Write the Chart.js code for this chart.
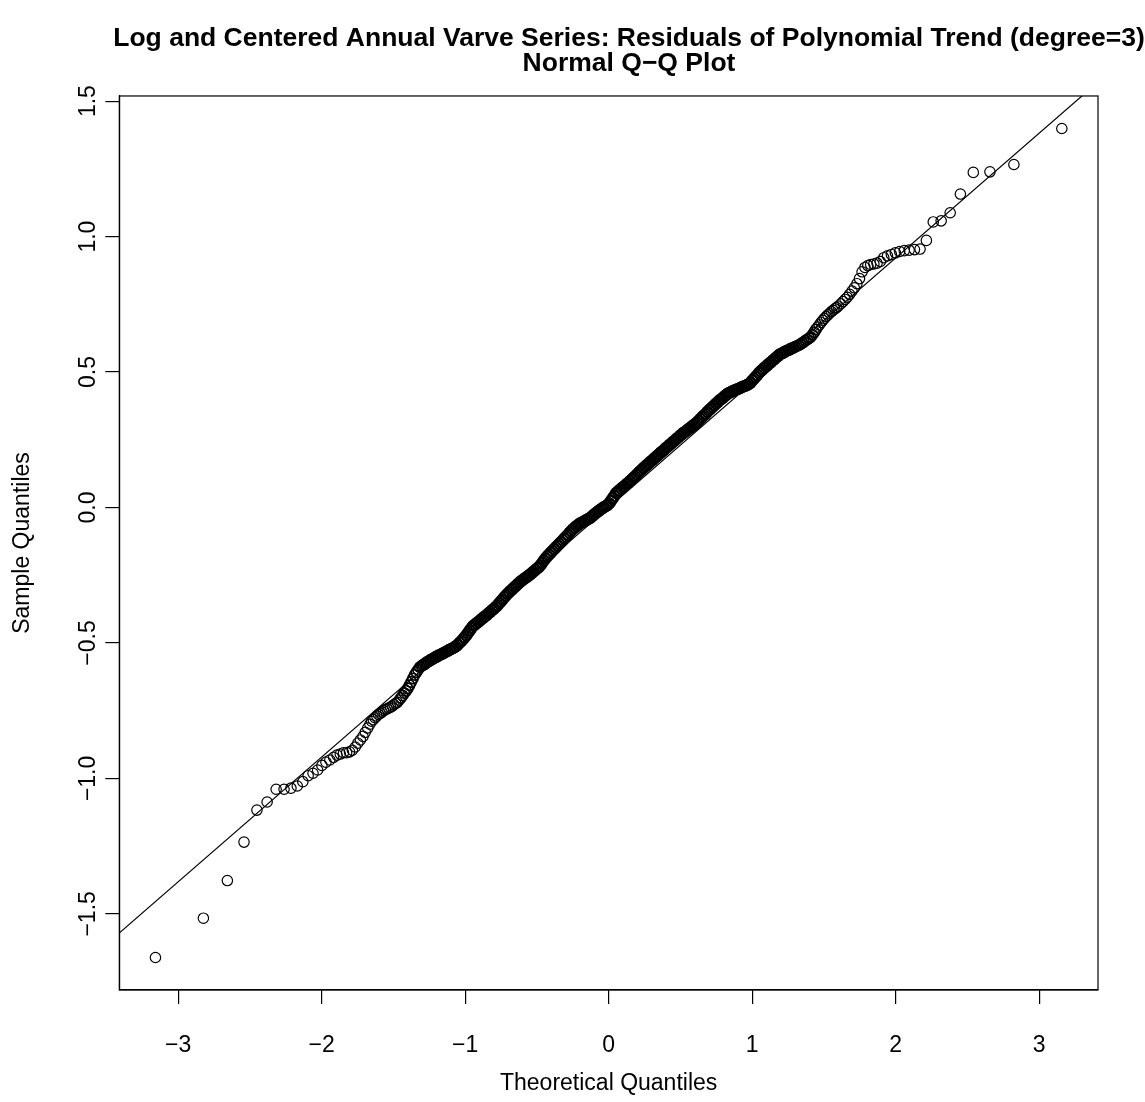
<!DOCTYPE html>
<html><head><meta charset="utf-8">
<script src="https://cdn.jsdelivr.net/npm/chart.js@4.4.1/dist/chart.umd.min.js"></script>
<style>html,body{margin:0;padding:0;background:#fff}canvas{display:block}</style>
</head><body>
<canvas id="c" width="1145" height="1102"></canvas>
<script>
const titleLines = ['Log and Centered Annual Varve Series: Residuals of Polynomial Trend (degree=3)', 'Normal Q\u2212Q Plot'];
const xAxisTitle = 'Theoretical Quantiles';
const yAxisTitle = 'Sample Quantiles';
const xTicks = [-3, -2, -1, 0, 1, 2, 3];
const yTicks = [-1.5, -1.0, -0.5, 0.0, 0.5, 1.0, 1.5];
const xRange = [-3.41, 3.41];
const yRange = [-1.781, 1.519];

// lower tail (individually visible points)
const lowerTailX = [-3.158,-2.824,-2.657,-2.541,-2.451,-2.380,-2.317,-2.262,-2.214,-2.170,-2.131,-2.094,-2.060,-2.028,-1.998,-1.970,-1.943,-1.917,-1.893,-1.870,-1.848,-1.826,-1.806,-1.786,-1.766,-1.748,-1.730,-1.712,-1.696,-1.679];
const lowerTailY = [-1.661,-1.516,-1.377,-1.235,-1.117,-1.087,-1.040,-1.040,-1.036,-1.028,-1.012,-0.990,-0.981,-0.969,-0.952,-0.940,-0.932,-0.922,-0.914,-0.910,-0.905,-0.905,-0.902,-0.896,-0.884,-0.870,-0.858,-0.845,-0.830,-0.814];

// dense central band
const bandX = [
-1.664,-1.652,-1.640,-1.628,-1.616,-1.604,-1.592,-1.580,-1.568,-1.556,
-1.544,-1.532,-1.520,-1.508,-1.496,-1.484,-1.472,-1.460,-1.448,-1.436,
-1.424,-1.412,-1.400,-1.388,-1.376,-1.364,-1.352,-1.340,-1.328,-1.316,
-1.304,-1.292,-1.280,-1.268,-1.256,-1.244,-1.232,-1.220,-1.208,-1.196,
-1.184,-1.172,-1.160,-1.148,-1.136,-1.124,-1.112,-1.100,-1.088,-1.076,
-1.064,-1.052,-1.040,-1.028,-1.016,-1.004,-0.992,-0.980,-0.968,-0.956,
-0.944,-0.932,-0.920,-0.908,-0.896,-0.884,-0.872,-0.860,-0.848,-0.836,
-0.824,-0.812,-0.800,-0.788,-0.776,-0.764,-0.752,-0.740,-0.728,-0.716,
-0.704,-0.692,-0.680,-0.668,-0.656,-0.644,-0.632,-0.620,-0.608,-0.596,
-0.584,-0.572,-0.560,-0.548,-0.536,-0.524,-0.512,-0.500,-0.488,-0.476,
-0.464,-0.452,-0.440,-0.428,-0.416,-0.404,-0.392,-0.380,-0.368,-0.356,
-0.344,-0.332,-0.320,-0.308,-0.296,-0.284,-0.272,-0.260,-0.248,-0.236,
-0.224,-0.212,-0.200,-0.188,-0.176,-0.164,-0.152,-0.140,-0.128,-0.116,
-0.104,-0.092,-0.080,-0.068,-0.056,-0.044,-0.032,-0.020,-0.008,0.004,
0.016,0.028,0.040,0.052,0.064,0.076,0.088,0.100,0.112,0.124,
0.136,0.148,0.160,0.172,0.184,0.196,0.208,0.220,0.232,0.244,
0.256,0.268,0.280,0.292,0.304,0.316,0.328,0.340,0.352,0.364,
0.376,0.388,0.400,0.412,0.424,0.436,0.448,0.460,0.472,0.484,
0.496,0.508,0.520,0.532,0.544,0.556,0.568,0.580,0.592,0.604,
0.616,0.628,0.640,0.652,0.664,0.676,0.688,0.700,0.712,0.724,
0.736,0.748,0.760,0.772,0.784,0.796,0.808,0.820,0.832,0.844,
0.856,0.868,0.880,0.892,0.904,0.916,0.928,0.940,0.952,0.964,
0.976,0.988,1.000,1.012,1.024,1.036,1.048,1.060,1.072,1.084,
1.096,1.108,1.120,1.132,1.144,1.156,1.168,1.180,1.192,1.204,
1.216,1.228,1.240,1.252,1.264,1.276,1.288,1.300,1.312,1.324,
1.336,1.348,1.360,1.372,1.384,1.396,1.408,1.420,1.432,1.444,
1.456,1.468,1.480,1.492,1.504,1.516,1.528,1.540,1.552,1.564,
1.576,1.588,1.600];
const bandY = [
-0.800,-0.789,-0.783,-0.776,-0.770,-0.764,-0.760,-0.755,-0.750,-0.746,
-0.743,-0.740,-0.737,-0.733,-0.728,-0.723,-0.719,-0.711,-0.703,-0.694,
-0.685,-0.677,-0.668,-0.656,-0.644,-0.631,-0.618,-0.608,-0.599,-0.590,
-0.585,-0.581,-0.577,-0.572,-0.568,-0.564,-0.561,-0.557,-0.553,-0.550,
-0.546,-0.543,-0.540,-0.537,-0.533,-0.530,-0.526,-0.523,-0.520,-0.516,
-0.513,-0.507,-0.500,-0.494,-0.487,-0.479,-0.472,-0.463,-0.454,-0.445,
-0.437,-0.432,-0.427,-0.422,-0.417,-0.411,-0.406,-0.401,-0.396,-0.390,
-0.385,-0.379,-0.374,-0.368,-0.362,-0.354,-0.347,-0.340,-0.332,-0.325,
-0.318,-0.312,-0.306,-0.300,-0.294,-0.288,-0.282,-0.276,-0.271,-0.266,
-0.262,-0.257,-0.252,-0.248,-0.242,-0.237,-0.231,-0.226,-0.221,-0.214,
-0.205,-0.196,-0.188,-0.180,-0.174,-0.167,-0.160,-0.154,-0.147,-0.141,
-0.134,-0.128,-0.121,-0.114,-0.108,-0.101,-0.093,-0.086,-0.080,-0.074,
-0.069,-0.064,-0.059,-0.056,-0.052,-0.049,-0.045,-0.042,-0.038,-0.033,
-0.027,-0.022,-0.017,-0.012,-0.007,-0.003,0.001,0.005,0.009,0.015,
0.024,0.034,0.043,0.053,0.059,0.064,0.070,0.075,0.080,0.086,
0.091,0.097,0.103,0.109,0.115,0.121,0.128,0.134,0.140,0.146,
0.152,0.157,0.163,0.169,0.174,0.180,0.186,0.191,0.197,0.203,
0.208,0.214,0.220,0.225,0.231,0.236,0.242,0.247,0.253,0.258,
0.264,0.269,0.275,0.279,0.284,0.289,0.294,0.299,0.304,0.309,
0.314,0.321,0.327,0.334,0.340,0.346,0.353,0.359,0.365,0.371,
0.377,0.383,0.389,0.395,0.400,0.405,0.411,0.416,0.421,0.424,
0.427,0.430,0.433,0.436,0.438,0.441,0.444,0.447,0.449,0.452,
0.455,0.460,0.468,0.475,0.482,0.489,0.497,0.503,0.509,0.515,
0.520,0.526,0.532,0.537,0.543,0.548,0.554,0.559,0.565,0.568,
0.571,0.575,0.578,0.581,0.584,0.587,0.590,0.593,0.596,0.599,
0.603,0.607,0.611,0.616,0.620,0.625,0.629,0.638,0.647,0.657,
0.666,0.674,0.683,0.691,0.698,0.705,0.711,0.717,0.723,0.728,
0.733,0.738,0.743];

// upper tail (individually visible points)
const upperTailX = [1.618,1.633,1.648,1.663,1.679,1.696,1.712,1.730,1.748,1.766,1.786,1.806,1.826,1.848,1.870,1.893,1.917,1.943,1.970,1.998,2.028,2.060,2.094,2.131,2.170,2.214,2.262,2.317,2.380,2.451,2.541,2.657,2.824,3.158];
const upperTailY = [0.752,0.760,0.768,0.776,0.787,0.799,0.811,0.826,0.845,0.870,0.886,0.893,0.897,0.899,0.902,0.908,0.922,0.929,0.934,0.940,0.945,0.948,0.950,0.952,0.954,0.986,1.054,1.058,1.088,1.157,1.237,1.239,1.266,1.399];

// reference (qqline) endpoints
const refLineX = [-3.6, 3.6];
const refLineY = [-1.658, 1.658];

const FONT = '"Liberation Sans", Arial, Helvetica, sans-serif';
const toPoints = (xs, ys) => xs.map((x, i) => ({x: x, y: ys[i]}));
const minusFmt = (v, d) => (v < 0 ? '\u2212' : '') + Math.abs(v).toFixed(d);

const allX = lowerTailX.concat(bandX, upperTailX);
const allY = lowerTailY.concat(bandY, upperTailY);

// heavier outline where the real data overplots into a solid band
const overplotWidth = c => {
  const p = c.raw;
  if (!p) return 1.2;
  const a = Math.abs(p.x);
  return a < 1.3 ? 2.0 : (a < 1.45 ? 1.6 : 1.2);
};

const boxPlugin = {
  id: 'box',
  afterDraw(chart) {
    const a = chart.chartArea, ctx = chart.ctx;
    ctx.save();
    ctx.strokeStyle = '#000';
    ctx.lineWidth = 1.2;
    ctx.strokeRect(a.left, a.top, a.right - a.left, a.bottom - a.top);
    ctx.restore();
  }
};
const TITLE_CENTER = 629;
const centerTitlePlugin = {
  id: 'centerTitle',
  afterLayout(chart) {
    const t = chart.titleBlock;
    if (!t) return;
    t.left = TITLE_CENTER - 600; t.right = TITLE_CENTER + 600; t.width = 1200;
  }
};

new Chart(document.getElementById('c').getContext('2d'), {
  type: 'scatter',
  data: {
    datasets: [
      {
        data: toPoints(allX, allY),
        pointStyle: 'circle',
        pointRadius: 5.2,
        pointHoverRadius: 5.2,
        borderWidth: 1.2,
        pointBorderWidth: overplotWidth,
        borderColor: '#000',
        backgroundColor: 'rgba(0,0,0,0)',
        pointBackgroundColor: 'rgba(0,0,0,0)'
      },
      {
        data: toPoints(refLineX, refLineY),
        showLine: true,
        pointRadius: 0,
        borderColor: '#000',
        borderWidth: 1.2,
        fill: false
      }
    ]
  },
  options: {
    responsive: false,
    animation: false,
    devicePixelRatio: 1,
    events: [],
    layout: {padding: {left: 0, right: 47, top: 0, bottom: 0}},
    plugins: {
      legend: {display: false},
      tooltip: {enabled: false},
      title: {
        display: true,
        text: titleLines,
        color: '#000',
        font: {family: FONT, size: 26.5, weight: 'bold', lineHeight: 0.943},
        padding: {top: 26, bottom: 20}
      }
    },
    scales: {
      x: {
        type: 'linear',
        min: xRange[0], max: xRange[1],
        afterBuildTicks: s => { s.ticks = xTicks.map(v => ({value: v})); },
        afterFit: s => { s.height = 112; },
        grid: {drawOnChartArea: false, drawTicks: true, tickLength: 14, color: '#000', lineWidth: 1.2},
        border: {display: true, color: '#000', width: 1.2},
        ticks: {color: '#000', font: {family: FONT, size: 23}, padding: 28, maxRotation: 0, minRotation: 0, autoSkip: false,
          callback: v => minusFmt(v, 0)},
        title: {display: true, text: xAxisTitle, color: '#000', font: {family: FONT, size: 23}, padding: {top: 0, bottom: 5}}
      },
      y: {
        type: 'linear',
        min: yRange[0], max: yRange[1],
        afterBuildTicks: s => { s.ticks = yTicks.map(v => ({value: v})); },
        afterFit: s => { s.width = 119.3; },
        grid: {drawOnChartArea: false, drawTicks: true, tickLength: 14, color: '#000', lineWidth: 1.2},
        border: {display: true, color: '#000', width: 1.2},
        ticks: {color: '#000', font: {family: FONT, size: 23}, padding: -6, minRotation: 90, maxRotation: 90,
          crossAlign: 'center', autoSkip: false, callback: v => minusFmt(v, 1)},
        title: {display: true, text: yAxisTitle, color: '#000', font: {family: FONT, size: 23}, padding: {top: 9, bottom: 0}}
      }
    }
  },
  plugins: [boxPlugin, centerTitlePlugin]
});
</script>
</body></html>
